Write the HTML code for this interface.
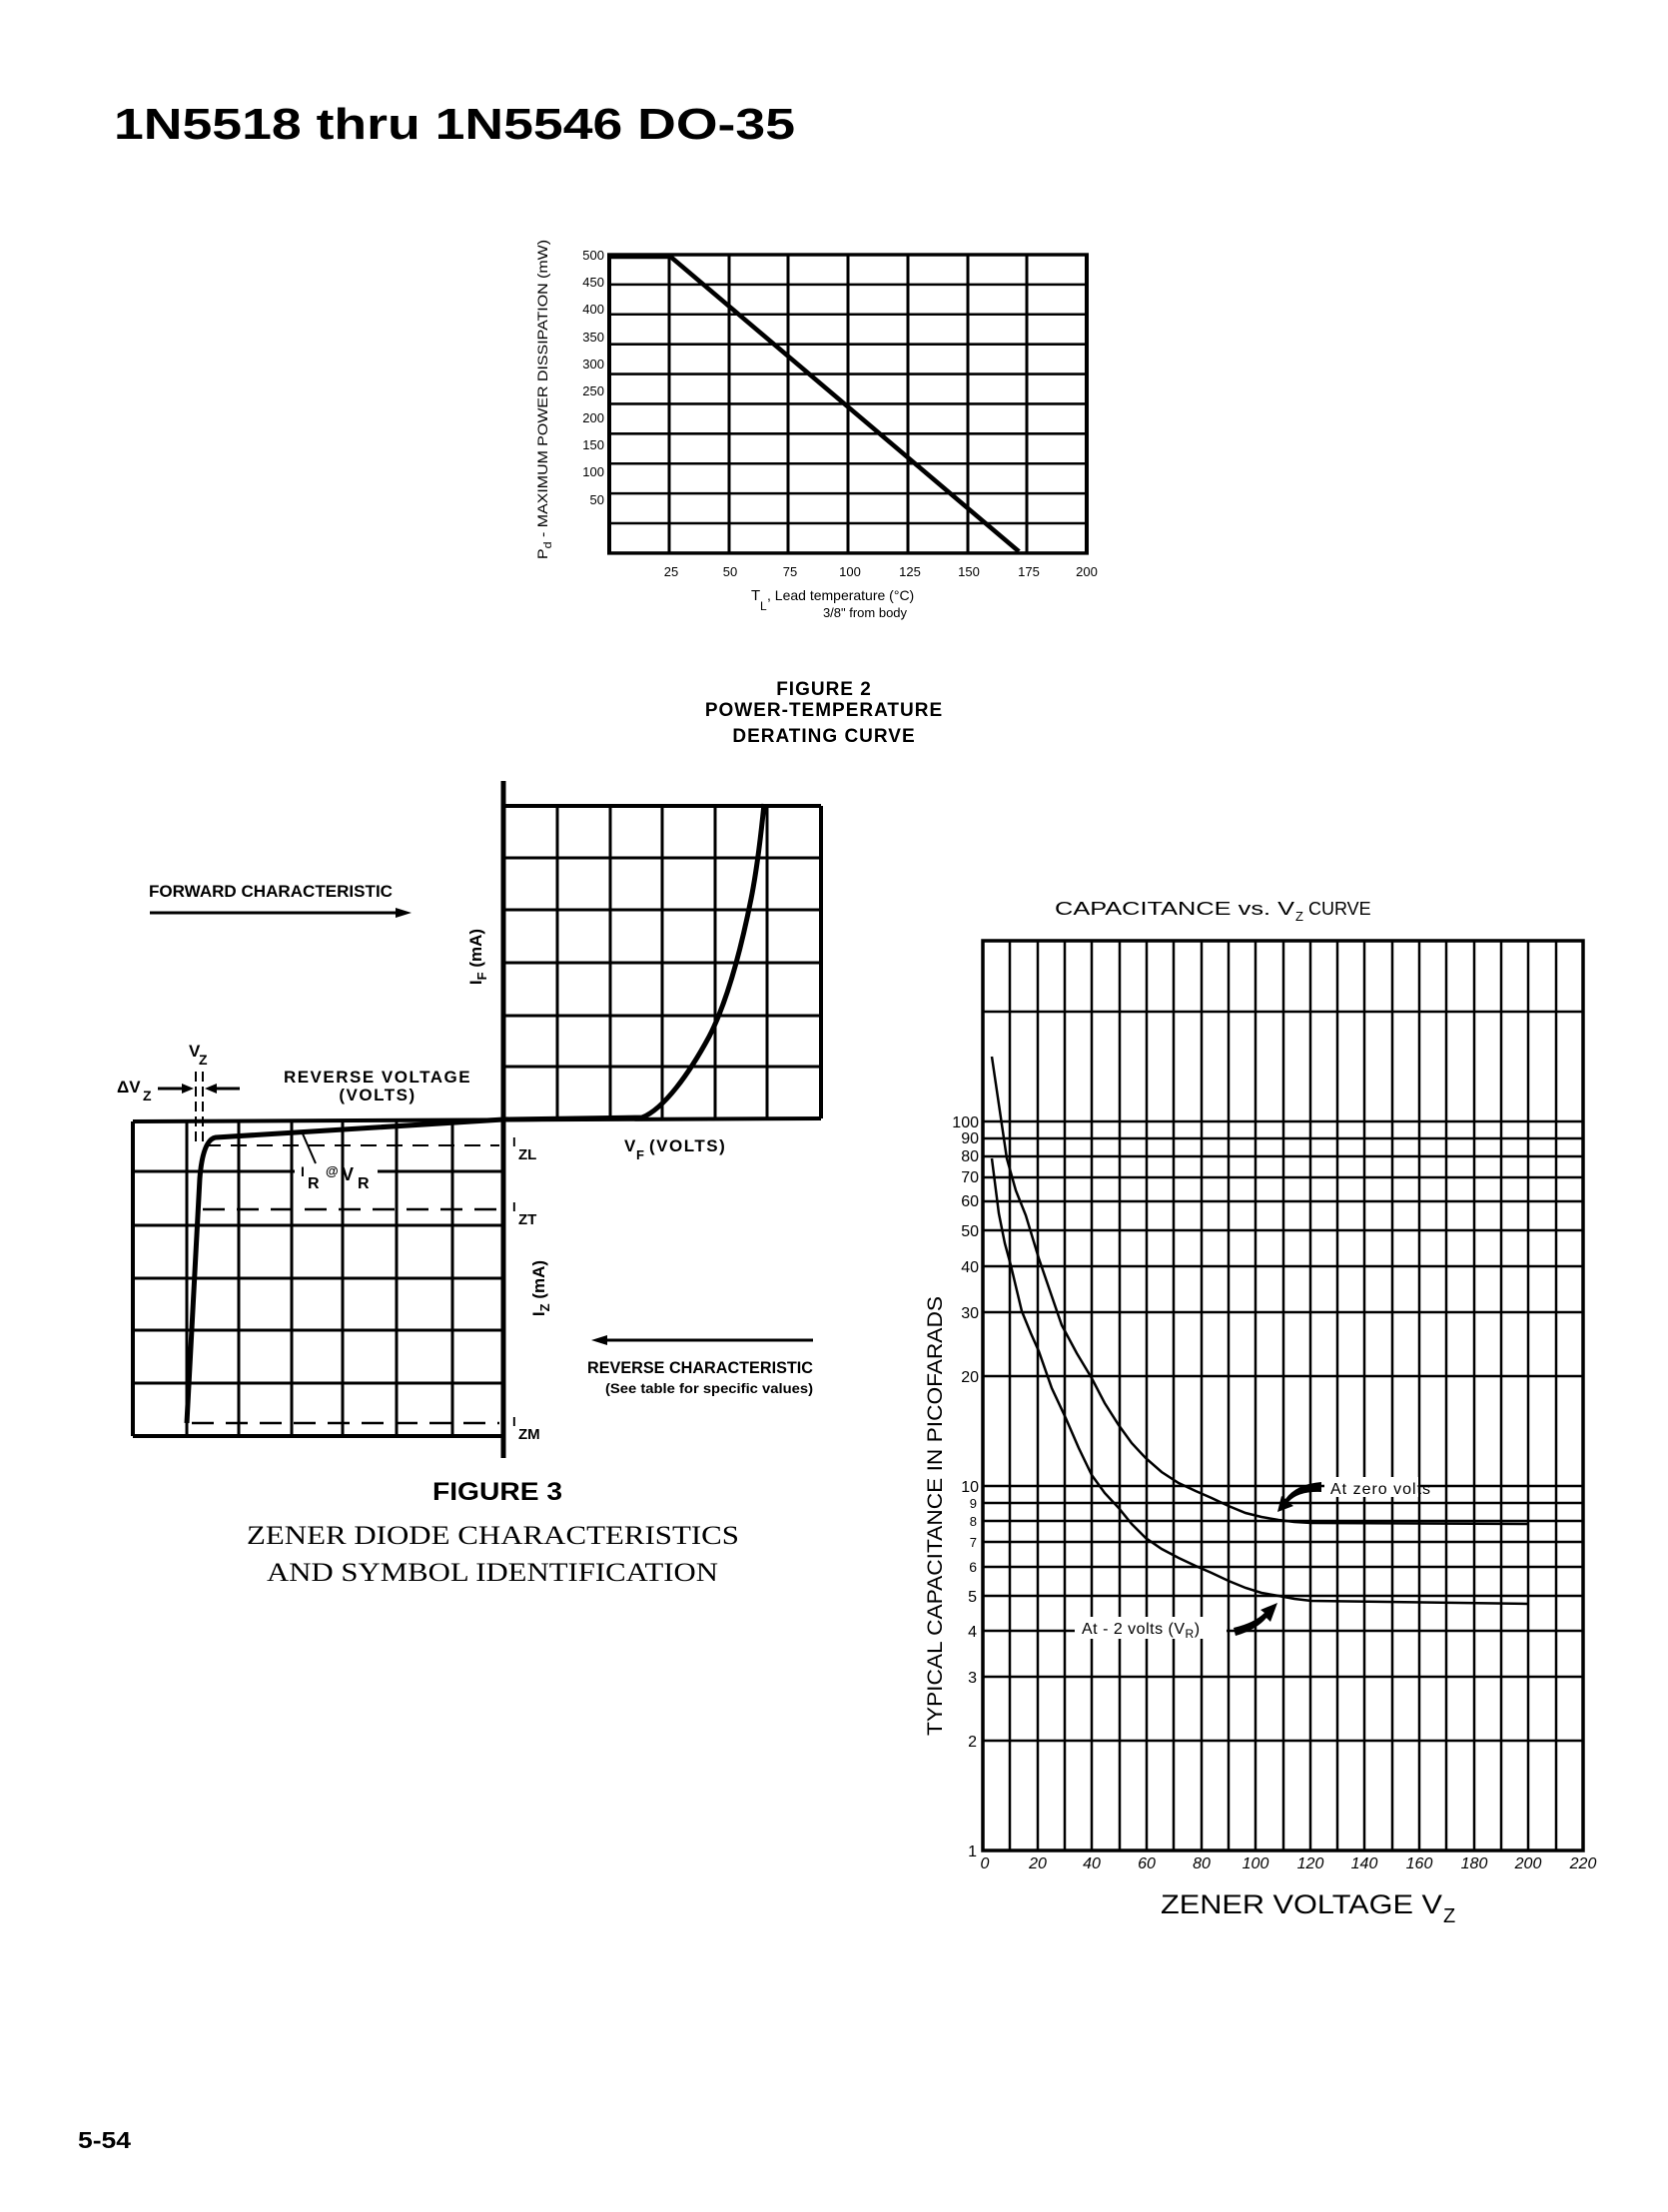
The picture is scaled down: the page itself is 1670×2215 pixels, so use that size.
<!DOCTYPE html>
<html><head><meta charset="utf-8"><style>
html,body{margin:0;padding:0;background:#fff;}
svg{display:block;}
text{font-family:"Liberation Sans",sans-serif;fill:#000;}
.n{font-family:"Liberation Sans Narrow","Liberation Sans",sans-serif;font-weight:bold;}
</style></head><body>
<svg width="1670" height="2215" viewBox="0 0 1670 2215" xmlns="http://www.w3.org/2000/svg">
<rect width="1670" height="2215" fill="#fff"/>
<!-- Title -->
<text x="114" y="139" font-size="44" font-weight="bold" textLength="682" lengthAdjust="spacingAndGlyphs">1N5518 thru 1N5546 DO-35</text>

<!-- FIGURE 2 -->
<g transform="translate(0,255) scale(1,0.854) translate(0,-259)">
<g stroke="#000" stroke-width="3" fill="none">
<line x1="670" y1="259" x2="670" y2="609"/><line x1="730" y1="259" x2="730" y2="609"/>
<line x1="789" y1="259" x2="789" y2="609"/><line x1="849" y1="259" x2="849" y2="609"/>
<line x1="909" y1="259" x2="909" y2="609"/><line x1="969" y1="259" x2="969" y2="609"/>
<line x1="1028" y1="259" x2="1028" y2="609"/>
<line x1="610" y1="294" x2="1088" y2="294"/><line x1="610" y1="329" x2="1088" y2="329"/>
<line x1="610" y1="364" x2="1088" y2="364"/><line x1="610" y1="399" x2="1088" y2="399"/>
<line x1="610" y1="434" x2="1088" y2="434"/><line x1="610" y1="469" x2="1088" y2="469"/>
<line x1="610" y1="504" x2="1088" y2="504"/><line x1="610" y1="539" x2="1088" y2="539"/>
<line x1="610" y1="574" x2="1088" y2="574"/>
<rect x="610" y="259" width="478" height="350" stroke-width="4"/>
<line x1="612" y1="261" x2="670" y2="261" stroke-width="6"/>
<line x1="670" y1="260" x2="1020" y2="607" stroke-width="5"/>
</g>
</g>
<g font-size="13" text-anchor="end">
<text x="605" y="260">500</text><text x="605" y="287">450</text><text x="605" y="314">400</text>
<text x="605" y="342">350</text><text x="605" y="369">300</text><text x="605" y="396">250</text>
<text x="605" y="423">200</text><text x="605" y="450">150</text><text x="605" y="477">100</text>
<text x="605" y="505">50</text>
</g>
<g font-size="13" text-anchor="middle">
<text x="672" y="577">25</text><text x="731" y="577">50</text><text x="791" y="577">75</text>
<text x="851" y="577">100</text><text x="911" y="577">125</text><text x="970" y="577">150</text>
<text x="1030" y="577">175</text><text x="1088" y="577">200</text>
</g>
<text transform="translate(548,400) rotate(-90)" font-size="14" text-anchor="middle" textLength="320" lengthAdjust="spacingAndGlyphs">P<tspan font-size="11" dy="4">d</tspan><tspan dy="-4"> - MAXIMUM POWER DISSIPATION (mW)</tspan></text>
<text x="752" y="601" font-size="15">T</text><text x="761" y="611" font-size="12">L</text>
<text x="768" y="601" font-size="14">, Lead temperature (°C)</text>
<text x="866" y="618" font-size="13" text-anchor="middle">3/8" from body</text>
<g class="n" font-size="19" text-anchor="middle">
<text x="825" y="696" class="n" letter-spacing="1">FIGURE 2</text>
<text x="825" y="717" class="n" letter-spacing="1">POWER-TEMPERATURE</text>
<text x="825" y="743" class="n" letter-spacing="1">DERATING CURVE</text>
</g>

<!-- FIGURE 3 -->
<g stroke="#000" stroke-width="3" fill="none">
<line x1="558" y1="807" x2="558" y2="1120"/><line x1="611" y1="807" x2="611" y2="1120"/>
<line x1="663" y1="807" x2="663" y2="1120"/><line x1="716" y1="807" x2="716" y2="1120"/>
<line x1="768" y1="807" x2="768" y2="1120"/>
<line x1="504" y1="859" x2="822" y2="859"/><line x1="504" y1="911" x2="822" y2="911"/>
<line x1="504" y1="964" x2="822" y2="964"/><line x1="504" y1="1017" x2="822" y2="1017"/>
<line x1="504" y1="1068" x2="822" y2="1068"/>
<line x1="504" y1="807" x2="822" y2="807" stroke-width="4"/>
<line x1="822" y1="807" x2="822" y2="1120" stroke-width="4"/>
<line x1="187" y1="1123" x2="187" y2="1438"/><line x1="239" y1="1123" x2="239" y2="1438"/>
<line x1="292" y1="1123" x2="292" y2="1438"/><line x1="343" y1="1123" x2="343" y2="1438"/>
<line x1="397" y1="1123" x2="397" y2="1438"/><line x1="453" y1="1123" x2="453" y2="1438"/>
<line x1="133" y1="1173" x2="295" y2="1173"/><line x1="378" y1="1173" x2="504" y2="1173"/>
<line x1="133" y1="1227" x2="504" y2="1227"/>
<line x1="133" y1="1280" x2="504" y2="1280"/><line x1="133" y1="1332" x2="504" y2="1332"/>
<line x1="133" y1="1385" x2="504" y2="1385"/>
<line x1="133" y1="1438" x2="504" y2="1438" stroke-width="4"/>
<line x1="133" y1="1123" x2="133" y2="1438" stroke-width="4"/>
<line x1="133" y1="1123" x2="822" y2="1120" stroke-width="4"/>
<line x1="504" y1="782" x2="504" y2="1460" stroke-width="5"/>
<line x1="205" y1="1147" x2="500" y2="1147" stroke-width="2" stroke-dasharray="16 10"/>
<line x1="203" y1="1211" x2="500" y2="1211" stroke-width="2.5" stroke-dasharray="22 12"/>
<line x1="192" y1="1425" x2="500" y2="1425" stroke-width="2.5" stroke-dasharray="22 12"/>
<line x1="196" y1="1073" x2="196" y2="1145" stroke-width="2" stroke-dasharray="10 5"/>
<line x1="203" y1="1073" x2="203" y2="1145" stroke-width="2" stroke-dasharray="10 5"/>
<line x1="302" y1="1133" x2="316" y2="1165" stroke-width="2"/>
<path d="M187,1425 L200,1180 Q203,1141 216,1139 L504,1121 L643,1119 C665,1110 690,1075 710,1038 C728,1003 742,950 752,900 C758,870 762,835 765,805" stroke-width="5"/>
<line x1="150" y1="914" x2="400" y2="914" stroke-width="3"/>
<line x1="158" y1="1090" x2="185" y2="1090" stroke-width="3"/>
<line x1="212" y1="1090" x2="240" y2="1090" stroke-width="3"/>
<line x1="604" y1="1342" x2="814" y2="1342" stroke-width="3"/>
</g>
<polygon points="396,909 412,914 396,919" fill="#000"/>
<polygon points="182,1085 194,1090 182,1095" fill="#000"/>
<polygon points="217,1085 205,1090 217,1095" fill="#000"/>
<polygon points="608,1337 592,1342 608,1347" fill="#000"/>
<g class="n">
<text x="149" y="898" font-size="17" class="n" textLength="244" lengthAdjust="spacingAndGlyphs">FORWARD CHARACTERISTIC</text>
<text x="189" y="1058" font-size="17" class="n">V</text><text x="199" y="1066" font-size="14" class="n">Z</text>
<text x="117" y="1094" font-size="17" class="n">ΔV</text><text x="143" y="1102" font-size="14" class="n">Z</text>
<text x="378" y="1084" font-size="17" class="n" text-anchor="middle" letter-spacing="1.5">REVERSE VOLTAGE</text>
<text x="378" y="1102" font-size="17" class="n" text-anchor="middle" letter-spacing="1.5">(VOLTS)</text>
<text x="301" y="1178" font-size="14" class="n">I</text><text x="308" y="1190" font-size="16" class="n">R</text>
<text x="326" y="1177" font-size="13" class="n">@</text><text x="342" y="1182" font-size="18" class="n">V</text>
<text x="358" y="1190" font-size="16" class="n">R</text>
<text x="513" y="1148" font-size="13" class="n">I</text><text x="519" y="1161" font-size="15" class="n">ZL</text>
<text x="513" y="1213" font-size="13" class="n">I</text><text x="519" y="1226" font-size="15" class="n">ZT</text>
<text x="513" y="1428" font-size="13" class="n">I</text><text x="519" y="1441" font-size="15" class="n">ZM</text>
<text x="625" y="1153" font-size="17" class="n">V</text><text x="637" y="1161" font-size="13" class="n">F</text>
<text x="650" y="1153" font-size="17" class="n" letter-spacing="1.5">(VOLTS)</text>
<text transform="translate(482,958) rotate(-90)" font-size="17" class="n" text-anchor="middle">I<tspan font-size="13" dy="5">F</tspan><tspan dy="-5"> (mA)</tspan></text>
<text transform="translate(545,1290) rotate(-90)" font-size="17" class="n" text-anchor="middle">I<tspan font-size="13" dy="5">Z</tspan><tspan dy="-5"> (mA)</tspan></text>
<text x="814" y="1375" font-size="17" class="n" text-anchor="end" textLength="226" lengthAdjust="spacingAndGlyphs">REVERSE CHARACTERISTIC</text>
<text x="814" y="1395" font-size="14" font-weight="normal" class="n" text-anchor="end" textLength="208" lengthAdjust="spacingAndGlyphs">(See table for specific values)</text>
</g>
<text x="498" y="1502" font-size="25" font-weight="900" text-anchor="middle" textLength="130" lengthAdjust="spacingAndGlyphs">FIGURE 3</text>
<text x="247" y="1546" style="font-family:'Liberation Serif',serif" font-size="26" textLength="493" lengthAdjust="spacingAndGlyphs">ZENER DIODE CHARACTERISTICS</text>
<text x="267" y="1583" style="font-family:'Liberation Serif',serif" font-size="26" textLength="452" lengthAdjust="spacingAndGlyphs">AND SYMBOL IDENTIFICATION</text>

<!-- CAPACITANCE CHART -->
<text x="1056" y="916" font-size="18" textLength="240" lengthAdjust="spacingAndGlyphs">CAPACITANCE vs. V</text>
<text x="1297" y="922" font-size="13">Z</text>
<text x="1310" y="916" font-size="18">CURVE</text>
<g stroke="#000" stroke-width="2.5" fill="none">
<path d="M1011,942V1853M1039,942V1853M1066,942V1853M1093,942V1853M1121,942V1853M1148,942V1853M1175,942V1853M1203,942V1853M1230,942V1853M1257,942V1853M1285,942V1853M1312,942V1853M1339,942V1853M1366,942V1853M1394,942V1853M1421,942V1853M1448,942V1853M1476,942V1853M1503,942V1853M1530,942V1853M1558,942V1853"/>
<path d="M984,1013H1585M984,1123H1585M984,1140H1585M984,1158H1585M984,1179H1585M984,1203H1585M984,1232H1585M984,1268H1585M984,1314H1585M984,1378H1585M984,1488H1585M984,1505H1585M984,1523H1585M984,1544H1585M984,1569H1585M984,1598H1585M984,1633H1585M984,1679H1585M984,1743H1585"/>
<rect x="984" y="942" width="601" height="911" stroke-width="3.5"/>
<polyline stroke-width="2.5" points="993,1058 1008,1160 1017,1192 1027,1217 1040,1260 1052,1295 1063,1327 1078,1355 1093,1380 1106,1405 1120,1427 1133,1445 1147,1460 1163,1474 1180,1485 1197,1493 1213,1500 1230,1508 1247,1515 1263,1519 1280,1522 1296,1524 1313,1525 1530,1526"/>
<polyline stroke-width="2.5" points="993,1160 1000,1215 1006,1245 1012,1267 1023,1313 1032,1335 1040,1353 1053,1390 1067,1420 1080,1450 1093,1477 1106,1495 1120,1510 1133,1526 1147,1540 1163,1551 1180,1560 1197,1568 1213,1575 1230,1583 1247,1590 1263,1595 1280,1598 1296,1601 1313,1603 1530,1606"/>
</g>
<rect x="1326" y="1479" width="94" height="20" fill="#fff"/>
<rect x="1076" y="1619" width="152" height="22" fill="#fff"/>
<text x="1332" y="1496" font-size="16" letter-spacing="1">At zero volts</text>
<text x="1083" y="1636" font-size="16" letter-spacing="0.5">At - 2 volts (V<tspan font-size="12" dy="4">R</tspan><tspan dy="-4">)</tspan></text>
<path d="M1323,1484 L1323,1494 Q1300,1493 1290,1504 L1295,1508 L1279,1514 L1283,1498 L1287,1501 Q1298,1486 1323,1484Z" fill="#000"/>
<path d="M1235,1630 L1237,1638 Q1258,1632 1268,1620 L1272,1624 L1279,1605 L1262,1612 L1266,1615 Q1256,1625 1235,1630Z" fill="#000"/>
<g font-size="16" text-anchor="end">
<text x="980" y="1129">100</text><text x="980" y="1145">90</text><text x="980" y="1163">80</text>
<text x="980" y="1184">70</text><text x="980" y="1208">60</text><text x="980" y="1238">50</text>
<text x="980" y="1274">40</text><text x="980" y="1320">30</text><text x="980" y="1384">20</text>
<text x="980" y="1494">10</text><text x="978" y="1510" font-size="13">9</text><text x="978" y="1528" font-size="13">8</text>
<text x="978" y="1549" font-size="13">7</text><text x="978" y="1574" font-size="14">6</text>
<text x="978" y="1604">5</text><text x="978" y="1639">4</text><text x="978" y="1685">3</text>
<text x="978" y="1749">2</text><text x="978" y="1859">1</text>
</g>
<g font-size="16" font-style="italic" text-anchor="middle">
<text x="986" y="1871">0</text><text x="1039" y="1871">20</text><text x="1093" y="1871">40</text>
<text x="1148" y="1871">60</text><text x="1203" y="1871">80</text><text x="1257" y="1871">100</text>
<text x="1312" y="1871">120</text><text x="1366" y="1871">140</text><text x="1421" y="1871">160</text>
<text x="1476" y="1871">180</text><text x="1530" y="1871">200</text><text x="1585" y="1871">220</text>
</g>
<text transform="translate(943,1518) rotate(-90)" font-size="21" text-anchor="middle" textLength="440" lengthAdjust="spacingAndGlyphs">TYPICAL CAPACITANCE IN PICOFARADS</text>
<text x="1162" y="1916" font-size="27" textLength="282" lengthAdjust="spacingAndGlyphs">ZENER VOLTAGE V</text>
<text x="1445" y="1925" font-size="20">Z</text>

<text x="78" y="2151" font-size="23" font-weight="bold" textLength="53" lengthAdjust="spacingAndGlyphs">5-54</text>
</svg>
</body></html>
